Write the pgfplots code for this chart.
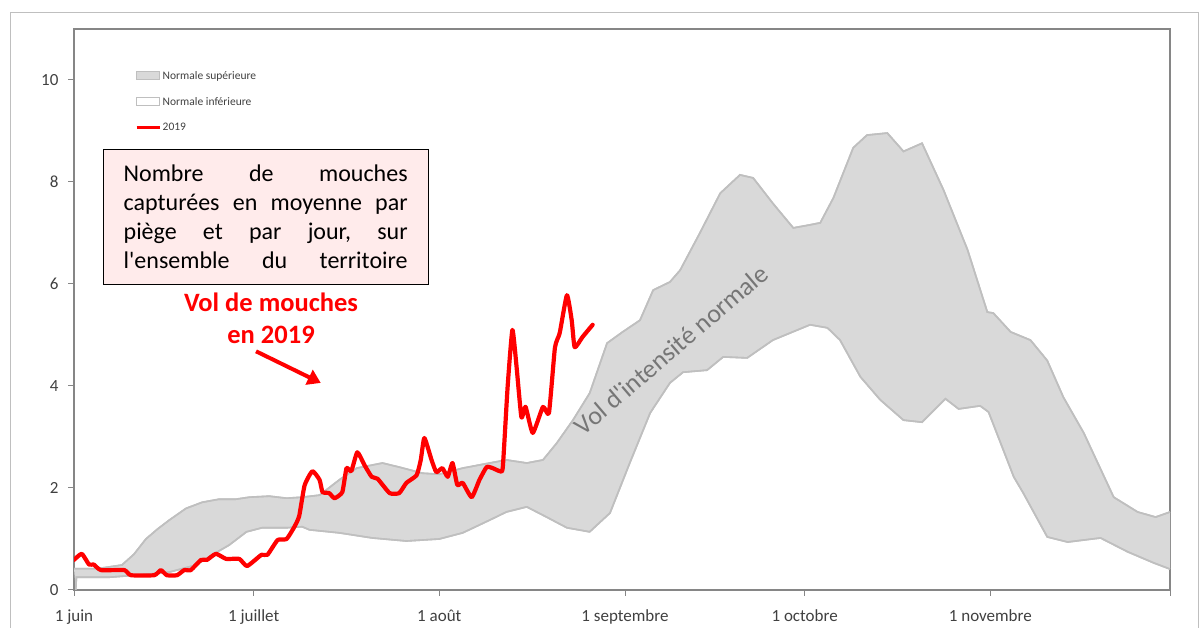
\documentclass[border=0pt]{standalone}
\usepackage{fontspec}
\setmainfont{Carlito}[Ligatures=TeXOff]
\usepackage{pgfplots}
\pgfplotsset{compat=1.18}
\usepgfplotslibrary{fillbetween}
\usetikzlibrary{arrows.meta}
\definecolor{bandfill}{RGB}{217,217,217}
\definecolor{bandline}{RGB}{191,191,191}
\definecolor{axisgray}{RGB}{134,134,134}
\definecolor{boxfill}{RGB}{255,235,235}
\definecolor{labelgray}{RGB}{64,64,64}
\definecolor{textgray}{RGB}{118,118,118}
\begin{document}
\begin{tikzpicture}
\path (0,0) rectangle (1200pt,628pt);
\draw[color=bandline, line width=1.2pt] (10.5pt,0pt) -- (10.5pt,615.5pt) -- (1198.5pt,615.5pt) -- (1198.5pt,0pt);
\begin{axis}[
  at={(74pt,38pt)}, anchor=south west,
  scale only axis, width=1096pt, height=561pt,
  xmin=0, xmax=183, ymin=0, ymax=11,
  xtick={0,30,61,92,122,153,183},
  xticklabels={1 juin,1 juillet,1 août,1 septembre,1 octobre,1 novembre,{}},
  ytick={0,2,4,6,8,10},
  tick align=outside, major tick length=6pt,
  xtick pos=bottom, ytick pos=left,
  axis line style={axisgray, line width=1.2pt},
  tick style={axisgray, line width=1pt},
  tick label style={font=\fontsize{17}{19}\selectfont, text=labelgray},
  /pgf/number format/assume math mode=true,
  xticklabel style={yshift=-10pt},
  yticklabel style={xshift=-6pt},
  legend style={at={(rel axis cs:0.0557,0.928)}, anchor=north west, draw=none, fill=none,
    inner sep=0pt, row sep=13.5pt, font=\fontsize{11.5}{13}\selectfont, text=labelgray,
    nodes={inner sep=1.5pt}},
  legend cell align=left,
]
\addplot[name path=up, draw=bandline, line width=1.6pt, forget plot] coordinates {
(0,0.42) (4,0.42) (8,0.49) (10,0.7) (12,1.0) (14,1.2) (15.9,1.37) (18.7,1.6) (21.4,1.72) (24.2,1.78) (27,1.78) (29.3,1.82) (32.6,1.84) (35.5,1.8) (38.1,1.82) (41,1.86) (44.3,2.16) (47.2,2.39) (51.5,2.49) (54.3,2.41) (58.2,2.29) (61,2.27) (64.9,2.39) (69.4,2.49) (72.2,2.55) (75.6,2.49) (78.3,2.55) (80.6,2.88) (83.3,3.33) (86.1,3.86) (89,4.84) (91.6,5.06) (94.5,5.29) (96.7,5.88) (99.5,6.04) (101.2,6.27) (104.5,7.0) (107.9,7.78) (111.2,8.14) (113.4,8.08) (116.7,7.58) (120.1,7.1) (122.9,7.16) (124.6,7.2) (126.8,7.69) (130.1,8.67) (132.4,8.92) (135.8,8.96) (138.5,8.6) (141.6,8.76) (145.2,7.84) (149.2,6.67) (152.5,5.45) (153.5,5.43) (156.4,5.06) (159.7,4.9) (162.5,4.5) (165.2,3.78) (168.6,3.08) (173.6,1.82) (177.6,1.53) (180.6,1.43) (183,1.53)
};
\addplot[name path=lo, draw=bandline, line width=1.6pt, forget plot] coordinates {
(0.3,0) (0.4,0.25) (5.9,0.25) (10.4,0.29) (15.9,0.35) (20.4,0.49) (23.1,0.69) (25.9,0.88) (28.8,1.14) (31.4,1.22) (35.5,1.22) (38.1,1.24) (39.3,1.18) (44.3,1.12) (49.8,1.02) (55.5,0.96) (61,1.0) (64.9,1.12) (69.4,1.37) (72.2,1.53) (75.6,1.63) (78.9,1.43) (82.3,1.22) (86.1,1.14) (89.5,1.51) (92.8,2.49) (96.2,3.47) (99.5,4.06) (101.7,4.27) (105.7,4.31) (108.4,4.57) (112.4,4.55) (116.7,4.9) (122.9,5.2) (125.8,5.14) (127.9,4.9) (131.3,4.18) (134.6,3.73) (138.5,3.33) (141.6,3.29) (145.5,3.75) (147.7,3.55) (151.3,3.61) (152.7,3.49) (156.9,2.22) (158.5,1.9) (162.5,1.04) (165.9,0.94) (171.4,1.02) (175.9,0.75) (180.3,0.53) (183,0.41)
};
\addplot[fill=bandfill, draw=none, forget plot] fill between[of=up and lo];
\addplot[draw=bandline, line width=1.6pt, forget plot] coordinates {
(0,0.42) (4,0.42) (8,0.49) (10,0.7) (12,1.0) (14,1.2) (15.9,1.37) (18.7,1.6) (21.4,1.72) (24.2,1.78) (27,1.78) (29.3,1.82) (32.6,1.84) (35.5,1.8) (38.1,1.82) (41,1.86) (44.3,2.16) (47.2,2.39) (51.5,2.49) (54.3,2.41) (58.2,2.29) (61,2.27) (64.9,2.39) (69.4,2.49) (72.2,2.55) (75.6,2.49) (78.3,2.55) (80.6,2.88) (83.3,3.33) (86.1,3.86) (89,4.84) (91.6,5.06) (94.5,5.29) (96.7,5.88) (99.5,6.04) (101.2,6.27) (104.5,7.0) (107.9,7.78) (111.2,8.14) (113.4,8.08) (116.7,7.58) (120.1,7.1) (122.9,7.16) (124.6,7.2) (126.8,7.69) (130.1,8.67) (132.4,8.92) (135.8,8.96) (138.5,8.6) (141.6,8.76) (145.2,7.84) (149.2,6.67) (152.5,5.45) (153.5,5.43) (156.4,5.06) (159.7,4.9) (162.5,4.5) (165.2,3.78) (168.6,3.08) (173.6,1.82) (177.6,1.53) (180.6,1.43) (183,1.53)
};
\addplot[draw=bandline, line width=1.6pt, forget plot] coordinates {
(0.3,0) (0.4,0.25) (5.9,0.25) (10.4,0.29) (15.9,0.35) (20.4,0.49) (23.1,0.69) (25.9,0.88) (28.8,1.14) (31.4,1.22) (35.5,1.22) (38.1,1.24) (39.3,1.18) (44.3,1.12) (49.8,1.02) (55.5,0.96) (61,1.0) (64.9,1.12) (69.4,1.37) (72.2,1.53) (75.6,1.63) (78.9,1.43) (82.3,1.22) (86.1,1.14) (89.5,1.51) (92.8,2.49) (96.2,3.47) (99.5,4.06) (101.7,4.27) (105.7,4.31) (108.4,4.57) (112.4,4.55) (116.7,4.9) (122.9,5.2) (125.8,5.14) (127.9,4.9) (131.3,4.18) (134.6,3.73) (138.5,3.33) (141.6,3.29) (145.5,3.75) (147.7,3.55) (151.3,3.61) (152.7,3.49) (156.9,2.22) (158.5,1.9) (162.5,1.04) (165.9,0.94) (171.4,1.02) (175.9,0.75) (180.3,0.53) (183,0.41)
};
\addplot[red, line width=4.2pt, smooth, tension=0.3, line join=round, line cap=round, forget plot] coordinates {
(0,0.59) (1.3,0.71) (2.5,0.5) (3.3,0.5) (4.5,0.39) (8.4,0.39) (9.5,0.29) (13.4,0.29) (14.5,0.39) (15.5,0.29) (17.2,0.29) (18.4,0.39) (19.5,0.39) (21.2,0.59) (22.2,0.59) (23.7,0.71) (25.4,0.61) (27.6,0.61) (28.9,0.47) (31.3,0.69) (32.3,0.69) (34,0.98) (35.5,1.0) (36.8,1.24) (37.6,1.45) (38.5,2.05) (39.8,2.33) (41,2.16) (41.5,1.92) (42.6,1.9) (43.5,1.8) (44.8,1.92) (45.5,2.39) (46.3,2.33) (47.3,2.7) (48.5,2.45) (49.7,2.22) (50.7,2.18) (52.7,1.9) (54.3,1.9) (55.5,2.1) (57.2,2.25) (57.9,2.55) (58.5,2.98) (59.7,2.55) (60.5,2.31) (61.5,2.39) (62.4,2.22) (63.2,2.49) (64,2.06) (64.9,2.1) (66.4,1.82) (67.7,2.16) (68.9,2.41) (69.9,2.39) (71.1,2.33) (71.6,2.41) (72.4,3.98) (73.2,5.1) (73.9,4.37) (74.7,3.39) (75.4,3.59) (76.6,3.08) (78.3,3.59) (79.3,3.47) (80.3,4.75) (81.1,5.04) (82.3,5.78) (83.1,5.29) (83.6,4.76) (84.9,4.96) (86.6,5.2)
};
\addlegendimage{legend image code/.code={\draw[fill=bandfill, draw=bandline, line width=1pt] (0pt,-4pt) rectangle (23pt,4pt);}}
\addlegendentry{Normale supérieure}
\addlegendimage{legend image code/.code={\draw[fill=white, draw=bandline, line width=1pt] (0pt,-4pt) rectangle (23pt,4pt);}}
\addlegendentry{Normale inférieure}
\addlegendimage{legend image code/.code={\draw[red, line width=3pt] (0pt,0pt) -- (23pt,0pt);}}
\addlegendentry{2019}
\node[draw=black, line width=1.3pt, fill=boxfill, text width=284pt, inner xsep=20.5pt, inner ysep=0pt, minimum height=135pt, font=\fontsize{24}{29}\selectfont] at (axis cs:32.0,7.32)
{\parindent=0pt\makebox[284pt]{Nombre\hfill de\hfill mouches}\par\makebox[284pt]{capturées\hfill en\hfill moyenne\hfill par}\par\makebox[284pt]{piège\hfill et\hfill par\hfill jour,\hfill sur}\par\makebox[284pt]{l'ensemble\hfill du\hfill territoire}\par};
\node[text=red, font=\bfseries\fontsize{26.5}{32}\selectfont, align=center] at (axis cs:32.9,5.33) {Vol de mouches\\en 2019};
\draw[red, line width=4pt, -{Triangle[length=13pt,width=16pt]}] (axis cs:30.4,4.68) -- (axis cs:41.2,4.06);
\node[rotate=40.5, text=textgray, font=\fontsize{26}{30}\selectfont] at (axis cs:99.7,4.71) {Vol d'intensité normale};
\end{axis}
\end{tikzpicture}
\end{document}
